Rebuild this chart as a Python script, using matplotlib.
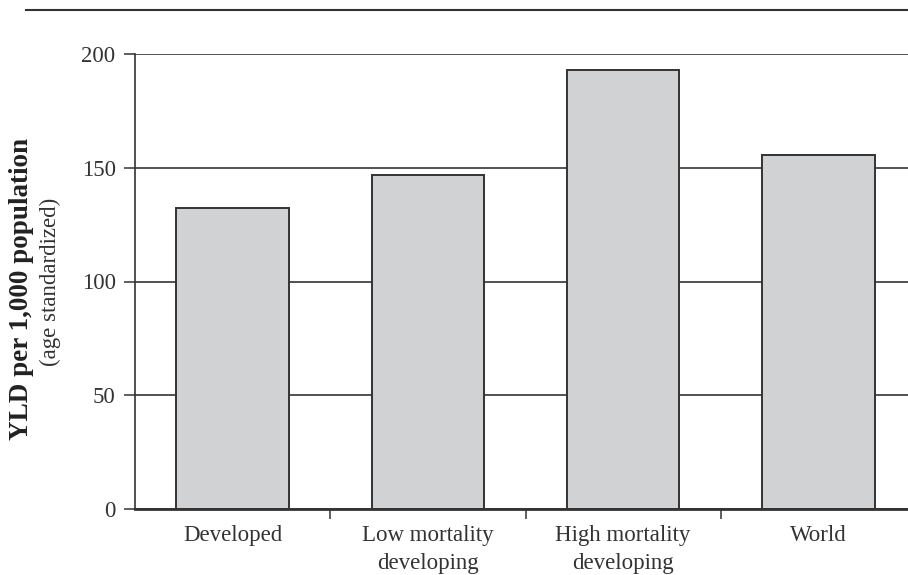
#!/usr/bin/env python
"""
yld_bars.py
===========

"""
import numpy as np
import matplotlib
matplotlib.use("Agg")
import matplotlib.pyplot as plt
from matplotlib.lines import Line2D

SIZE = np.array([908, 575])

regions = ["Developed", "Low mortality\ndeveloping", "High mortality\ndeveloping", "World"]
yld = [132.5, 146.7, 193.1, 155.7]
yticks = [0, 50, 100, 150, 200]

plt.rcParams["font.family"] = ["Liberation Serif", "DejaVu Serif"]

if __name__ == '__main__':

    fig = plt.figure(figsize=SIZE/100., dpi=100)
    ax = fig.add_axes([135/908., 1-508.7/575., 781/908., 454.4/575.])

    x = np.arange(len(regions))
    ax.set_axisbelow(True)
    ax.yaxis.grid(True, color="#222222", linewidth=1.1)
    ax.bar(x, yld, width=0.575, color="#d1d2d4", edgecolor="#333333", linewidth=1.4, zorder=2)

    ax.set_xlim(-0.5, len(regions) - 0.5)
    ax.set_ylim(0, 200)
    ax.set_yticks(yticks)
    ax.set_xticks(x)
    ax.set_xticklabels(regions, fontsize=16.5, color="#333333", linespacing=1.4)
    ax.set_xticks(x[:-1] + 0.5, minor=True)
    ax.tick_params(axis="x", which="major", length=0, pad=12)
    ax.tick_params(axis="x", which="minor", length=7, width=1.1, color="#333333")
    ax.tick_params(axis="y", length=8, width=1.1, color="#333333", pad=6,
                   labelsize=16.5, labelcolor="#333333")

    for s in ["top", "right"]:
        ax.spines[s].set_visible(False)
    ax.spines["left"].set_linewidth(1.2)
    ax.spines["left"].set_color("#333333")
    ax.spines["bottom"].set_linewidth(2.0)
    ax.spines["bottom"].set_color("#333333")

    fig.text(22/908., 1-289/575., "YLD per 1,000 population", rotation=90,
             ha="center", va="center", fontsize=19.5, fontweight="bold", color="#222222")
    fig.text(50/908., 1-282/575., "(age standardized)", rotation=90,
             ha="center", va="center", fontsize=16.5, color="#333333")

    fig.add_artist(Line2D([26/908., 1.0], [1-10/575., 1-10/575.],
                          transform=fig.transFigure, color="#333333", linewidth=1.5))

    plt.savefig("out.png", dpi=100)
